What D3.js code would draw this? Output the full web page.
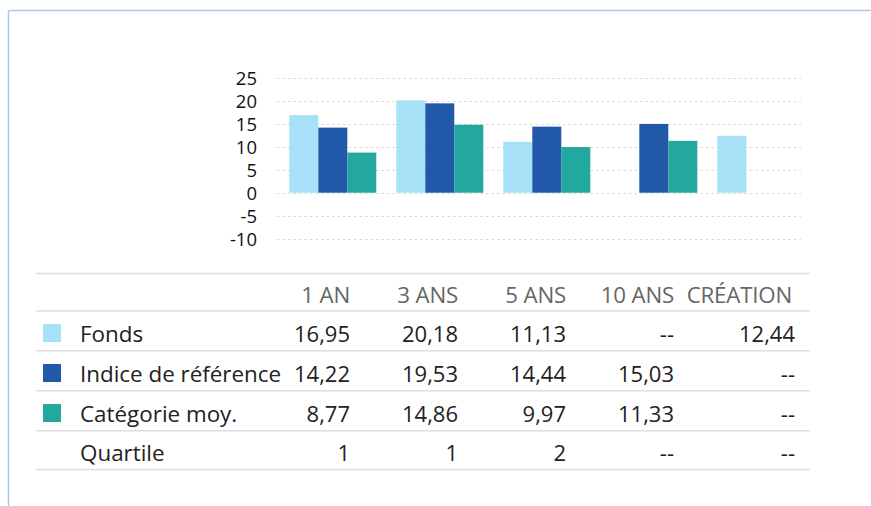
<!DOCTYPE html>
<html>
<head>
<meta charset="utf-8">
<script src="https://cdn.jsdelivr.net/npm/d3@7"></script>
<style>
  html, body { margin: 0; padding: 0; background: #fff; }
  svg { display: block; font-family: "Open Sans", "Noto Sans", sans-serif; }
</style>
</head>
<body>
<svg id="chart" width="871" height="506"></svg>
<script>
// ---- data ----
const categories = ["1 AN", "3 ANS", "5 ANS", "10 ANS", "CRÉATION"];
const seriesNames = ["Fonds", "Indice de référence", "Catégorie moy."];
const fonds = [16.95, 20.18, 11.13, null, 12.44];
const indice = [14.22, 19.53, 14.44, 15.03, null];
const categorie = [8.77, 14.86, 9.97, 11.33, null];
const quartile = ["1", "1", "2", "--", "--"];
const yTicks = [-10, -5, 0, 5, 10, 15, 20, 25];

const colors = ["#a7e1f7", "#2159a8", "#22a89e"];
const seriesValues = [fonds, indice, categorie];

const svg = d3.select("#chart");
const W = 871, H = 506;

// frame lines (top and left)
svg.append("line").attr("x1", 8.5).attr("x2", W).attr("y1", 10.5).attr("y2", 10.5)
  .attr("stroke", "#a9c9ea").attr("stroke-width", 1.5);
svg.append("line").attr("x1", 8.5).attr("x2", 8.5).attr("y1", 10.5).attr("y2", H)
  .attr("stroke", "#a9c9ea").attr("stroke-width", 1.5);

// ---- chart ----
const y = d3.scaleLinear().domain([-10, 25]).range([238.5, 78.3]);
const x0 = d3.scaleBand().domain(categories)
  .range([279.3, 279.3 + 5 * 107]).paddingInner(20 / 107).paddingOuter(10 / 107);
const x1 = d3.scaleBand().domain(d3.range(3)).range([0, x0.bandwidth()]);

// gridlines
svg.append("g").selectAll("line").data(yTicks).join("line")
  .attr("x1", 277).attr("x2", 801)
  .attr("y1", d => Math.round(y(d)) + 0.5).attr("y2", d => Math.round(y(d)) + 0.5)
  .attr("stroke", "#d9d9d9").attr("stroke-width", 1).attr("stroke-dasharray", "2.5,3");

// y axis labels
const yAxis = d3.axisLeft(y).tickValues(yTicks).tickSize(0).tickPadding(0)
  .tickFormat(d => d3.format("d")(d).replace("−", "-"));
const gy = svg.append("g").attr("transform", "translate(257,0)").call(yAxis);
gy.select(".domain").remove();
gy.selectAll("text").attr("font-size", 18.5).attr("fill", "#111")
  .attr("font-family", "'Open Sans', sans-serif").attr("dy", "0.36em")
  .attr("letter-spacing", "0px");

// bars
const barData = [];
categories.forEach((c, i) => {
  seriesValues.forEach((s, j) => {
    if (s[i] !== null) barData.push({ cat: c, s: j, v: s[i] });
  });
});
svg.append("g").selectAll("rect").data(barData).join("rect")
  .attr("x", d => x0(d.cat) + x1(d.s))
  .attr("width", x1.bandwidth())
  .attr("y", d => y(Math.max(0, d.v)))
  .attr("height", d => Math.abs(y(d.v) - y(0)))
  .attr("fill", d => colors[d.s]);

// ---- table ----
const tableLeft = 36, tableRight = 810;
const lineYs = [273.5, 311, 350.7, 390.7, 430.7, 469.5];
const colRight = [350, 458, 566, 674, 792];
const lineColor = "#dedede";

const tg = svg.append("g");
tg.selectAll("line").data(lineYs).join("line")
  .attr("x1", tableLeft).attr("x2", tableRight)
  .attr("y1", d => d).attr("y2", d => d)
  .attr("stroke", lineColor).attr("stroke-width", 1.5);

// header
tg.append("g").selectAll("text").data(categories).join("text")
  .attr("x", (d, i) => colRight[i]).attr("y", 302.5)
  .attr("text-anchor", "end").attr("font-size", 22.3).attr("fill", "#666")
  .attr("letter-spacing", "-0.2px")
  .text(d => d);

const fmt = v => v === null ? "--" : d3.format(".2f")(v).replace(".", ",");
const rows = [
  { label: seriesNames[0], color: colors[0], vals: fonds.map(fmt) },
  { label: seriesNames[1], color: colors[1], vals: indice.map(fmt) },
  { label: seriesNames[2], color: colors[2], vals: categorie.map(fmt) },
  { label: "Quartile", color: null, vals: quartile }
];
const rowBase = [341.5, 381.5, 421.5, 460.5];

rows.forEach((r, ri) => {
  const g = tg.append("g");
  if (r.color) {
    g.append("rect").attr("x", 43).attr("y", rowBase[ri] - 17.5)
      .attr("width", 18).attr("height", 18).attr("fill", r.color);
  }
  g.append("text").attr("x", 80).attr("y", rowBase[ri])
    .attr("font-size", 22.4).attr("fill", "#222").text(r.label);
  g.selectAll("text.v").data(r.vals).join("text").attr("class", "v")
    .attr("x", (d, i) => colRight[i] + (i === 4 ? 3 : 0)).attr("y", rowBase[ri])
    .attr("text-anchor", "end").attr("font-size", 22).attr("fill", "#222")
    .text(d => d);
});
</script>
</body>
</html>
